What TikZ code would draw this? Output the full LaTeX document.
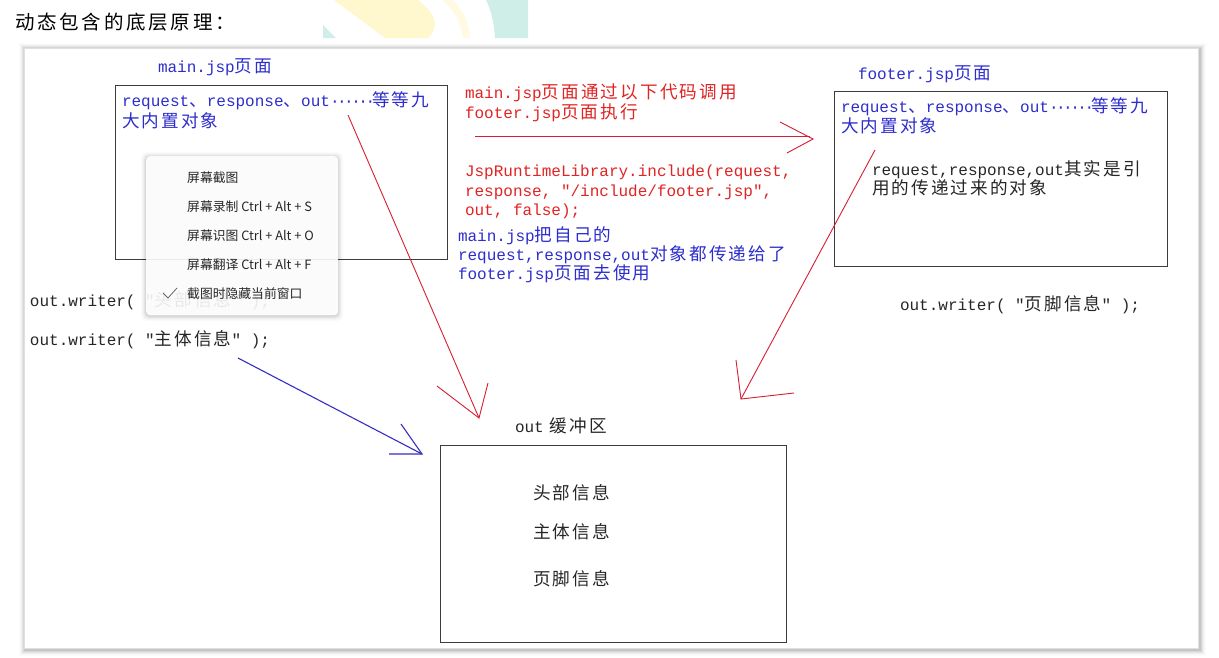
\documentclass[tikz,border=0pt]{standalone}
\usepackage{fontspec}
\setmainfont{Liberation Mono}[Ligatures=TeXOff]
\newfontfamily\cjkf[Scale=1.1,LetterSpace=12]{Noto Sans CJK SC}
\newfontfamily\menuf{Noto Sans CJK SC}
\newfontfamily\titlef[LetterSpace=14]{Noto Sans CJK SC}
\newcommand\C[1]{{\cjkf #1}}
\newcommand\sixdots{·\kern-2.5pt·\kern-2.5pt·\kern-2.5pt·\kern-2.5pt·\kern-2.5pt·\kern-3pt}
\definecolor{txtblue}{RGB}{45,45,205}
\definecolor{txtred}{RGB}{225,35,35}
\definecolor{linered}{RGB}{215,30,50}
\definecolor{lineblue}{RGB}{55,45,190}
\definecolor{boxgray}{RGB}{60,60,60}
\definecolor{wmyellow}{RGB}{255,247,205}
\definecolor{wmteal}{RGB}{208,238,232}
\tikzset{
 base/.style={anchor=west, inner sep=0pt, outer sep=0pt, font=\fontsize{16}{18}\selectfont},
 bt/.style={base, text=txtblue},
 rt/.style={base, text=txtred},
 kt/.style={base, text=black!85},
 frame/.style={draw=boxgray, line width=1.3pt, anchor=north west, inner sep=0pt},
 redline/.style={draw=linered, line width=0.9pt},
 blueline/.style={draw=lineblue, line width=1.1pt},
 menuitem/.style={anchor=west, inner sep=0pt, font=\menuf\fontsize{12.8}{14}\selectfont, text=black!85},
}
\begin{document}
\begin{tikzpicture}[x=1pt,y=-1pt]
\useasboundingbox (0,0) rectangle (1219,657);
\fill[white] (0,0) rectangle (1219,657);
% watermark
\fill[wmteal] (323,25) -- (336,38) -- (323,38) -- cycle;
\fill[wmyellow] (334,0) -- (418,0) .. controls (436,14) and (440,26) .. (428,38) -- (385,38) -- cycle;
\fill[wmyellow!60] (442,0) .. controls (455,10) and (462,25) .. (463,38) -- (470,38) .. controls (469,22) and (462,8) .. (452,0) -- cycle;
\fill[wmteal] (486,0) -- (528,0) -- (528,38) -- (495,38) .. controls (494,22) and (491,10) .. (486,0) -- cycle;
% title
\node[anchor=west, inner sep=0pt, font=\titlef\fontsize{19.5}{22}\selectfont] (title) at (15,22) {动态包含的底层原理：};
% page frame with shadow
\foreach \i/\o in {6/0.012,5/0.02,4/0.03,3/0.045,2/0.06,1/0.08} {
  \fill[black,opacity=\o] ({25-\i},{49-\i}) rectangle ({1200+\i},{650+\i});
}
\node[draw=black!12, fill=white, anchor=north west, minimum width=1174pt, minimum height=600pt, inner sep=0pt] (page) at (24,48) {};
% boxes
\node[frame, minimum width=332pt, minimum height=174pt] (mainbox) at (115,85) {};
\node[frame, minimum width=333pt, minimum height=175pt] (footbox) at (834,91) {};
\node[frame, minimum width=346pt, minimum height=197pt] (bufbox) at (440,445) {};
% main.jsp
\node[bt] (mainlbl) at (158,67) {main.jsp\C{页面}};
\node[bt] (main1) at (122,101) {request\C{、}response\C{、}out\sixdots\C{等等九}};
\node[bt] (main2) at (122,121) {\C{大内置对象}};
% red text
\node[rt] (r1) at (465,93) {main.jsp\C{页面通过以下代码调用}};
\node[rt] (r2) at (465,113) {footer.jsp\C{页面执行}};
\node[rt] (r3) at (465,172) {JspRuntimeLibrary.include(request,};
\node[rt] (r4) at (465,192) {response, "/include/footer.jsp",};
\node[rt] (r5) at (465,211) {out, false);};
% blue text
\node[bt] (b1) at (458,236) {main.jsp\C{把自己的}};
\node[bt] (b2) at (458,255) {request,response,out\C{对象都传递给了}};
\node[bt] (b3) at (458,274) {footer.jsp\C{页面去使用}};
% footer.jsp
\node[bt] (flbl) at (858,74) {footer.jsp\C{页面}};
\node[bt] (f1) at (841,107) {request\C{、}response\C{、}out\sixdots\C{等等九}};
\node[bt] (f2) at (841,126) {\C{大内置对象}};
\node[kt] (f3) at (872,170) {request,response,out\C{其实是引}};
\node[kt] (f4) at (872,188) {\C{用的传递过来的对象}};
\node[kt] (w3) at (900,305) {out.writer( "\C{页脚信息}" );};
% left writes
\node[kt] (w1) at (30,301) {out.writer( "\C{头部信息}" );};
\node[kt] (w2) at (30,340) {out.writer( "\C{主体信息}" );};
% buffer
\node[kt] (buflbl) at (515,426) {out\hspace{6pt}\C{缓冲区}};
\node[kt] (h1) at (533,493) {\C{头部信息}};
\node[kt] (h2) at (533,532) {\C{主体信息}};
\node[kt] (h3) at (533,579) {\C{页脚信息}};
% popup menu
\foreach \i/\o in {5/0.015,4/0.02,3/0.03,2/0.04,1/0.05} {
  \fill[black,opacity=\o, rounded corners=5pt] ({146-\i},{156-\i+1}) rectangle ({338+\i},{315+\i+1});
}
\node[fill=white, fill opacity=0.9, rounded corners=4pt, anchor=north west, minimum width=192pt, minimum height=159pt, inner sep=0pt] (menu) at (146,156) {};
\node[menuitem] (m1) at (187,178) {屏幕截图};
\node[menuitem] (m2) at (187,207) {屏幕录制 Ctrl + Alt + S};
\node[menuitem] (m3) at (187,236) {屏幕识图 Ctrl + Alt + O};
\node[menuitem] (m4) at (187,265) {屏幕翻译 Ctrl + Alt + F};
\node[menuitem] (m5) at (187,294) {截图时隐藏当前窗口};
\coordinate (ck1) at (163,293);
\coordinate (ck2) at (168,298);
\coordinate (ck3) at (177,288);
\draw[black!60, line width=0.8pt] (ck1) -- (ck2) -- (ck3);
% arrows
\coordinate (a1s) at (348,115);
\coordinate (a1t) at (479,418);
\coordinate (a1h1) at (437,386);
\coordinate (a1h2) at (488,383);
\draw[redline] (a1s) -- (a1t);
\draw[redline] (a1h1) -- (a1t) -- (a1h2);
\coordinate (a2s) at (475,136);
\coordinate (a2e) at (810,136);
\coordinate (a2t) at (813,139);
\coordinate (a2h1) at (780,122);
\coordinate (a2h2) at (787,153);
\draw[redline] (a2s) -- (a2e);
\draw[redline] (a2h1) -- (a2t) -- (a2h2);
\coordinate (a3s) at (875,150);
\coordinate (a3t) at (741,399);
\coordinate (a3h1) at (736,360);
\coordinate (a3h2) at (794,393);
\draw[redline] (a3s) -- (a3t);
\draw[redline] (a3h1) -- (a3t) -- (a3h2);
\coordinate (a4s) at (238,358);
\coordinate (a4t) at (422,454);
\coordinate (a4h1) at (401,424);
\coordinate (a4h2) at (389,454);
\draw[blueline] (a4s) -- (a4t);
\draw[blueline] (a4h1) -- (a4t) -- (a4h2);
\end{tikzpicture}
\end{document}
